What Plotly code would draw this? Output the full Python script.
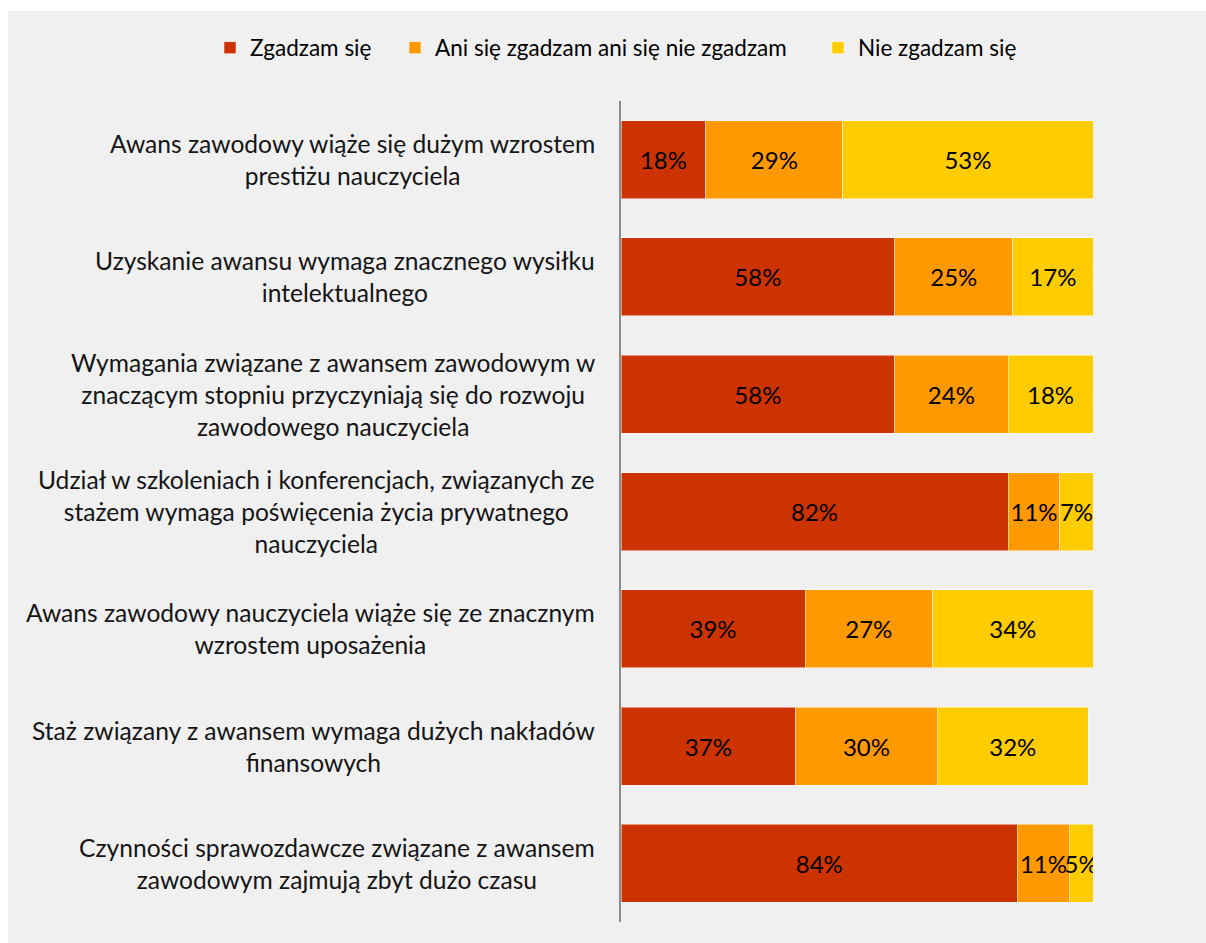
import plotly.graph_objects as go

categories = [
    "Awans zawodowy wiąże się dużym wzrostem<br>prestiżu nauczyciela",
    "Uzyskanie awansu wymaga znacznego wysiłku<br>intelektualnego",
    "Wymagania związane z awansem zawodowym w<br>znaczącym stopniu przyczyniają się do rozwoju<br>zawodowego nauczyciela",
    "Udział w szkoleniach i konferencjach, związanych ze<br>stażem wymaga poświęcenia życia prywatnego<br>nauczyciela",
    "Awans zawodowy nauczyciela wiąże się ze znacznym<br>wzrostem uposażenia",
    "Staż związany z awansem wymaga dużych nakładów<br>finansowych",
    "Czynności sprawozdawcze związane z awansem<br>zawodowym zajmują zbyt dużo czasu",
]
series_names = ["Zgadzam się", "Ani się zgadzam ani się nie zgadzam", "Nie zgadzam się"]
agree = [18, 58, 58, 82, 39, 37, 84]
neutral = [29, 25, 24, 11, 27, 30, 11]
disagree = [53, 17, 18, 7, 34, 32, 5]
colors = ["#CC3300", "#FF9900", "#FFCC00"]

FONT = "Lato"
W, H = 1206, 943
L, R, T, B = 621, 1093, 101, 922
legend_ids = ["legend", "legend2", "legend3"]
legend_left_px = [210, 395, 818]

fig = go.Figure()
for name, vals, col, lid in zip(series_names, [agree, neutral, disagree], colors, legend_ids):
    fig.add_trace(go.Bar(
        y=categories, x=vals, name=name, orientation="h", legend=lid,
        marker=dict(color=col, line=dict(color="rgba(255,255,255,0.5)", width=1)),
        text=[f"{v}%" for v in vals], textposition="inside",
        insidetextanchor="middle", textangle=0,
        textfont=dict(family=FONT, size=24, color="black"),
        hoverinfo="skip",
    ))

def px_x(p):
    return (p - L) / (R - L)

def px_y(p):
    return (B - p) / (B - T)

annotations = []
for c in categories:
    annotations.append(dict(
        x=px_x(597), xref="paper", y=c, yref="y", text=c, showarrow=False,
        xanchor="right", yanchor="middle", align="center",
        font=dict(family=FONT, size=24.6, color="#151515"),
    ))

legend_common = dict(orientation="h", xanchor="left", y=px_y(48), yanchor="middle",
                     font=dict(family=FONT, size=22.5, color="black"),
                     bgcolor="rgba(0,0,0,0)", itemwidth=30)

fig.update_layout(
    width=W, height=H,
    margin=dict(l=L, r=W - R, t=T, b=H - B, pad=0, autoexpand=False),
    paper_bgcolor="white", plot_bgcolor="rgba(0,0,0,0)",
    barmode="stack", bargap=0.335,
    uniformtext=dict(minsize=24, mode="show"),
    font=dict(family=FONT, size=22, color="black"),
    xaxis=dict(range=[0, 100], showgrid=False, zeroline=False, showticklabels=False,
               showline=False, fixedrange=True),
    yaxis=dict(autorange="reversed", showgrid=False, zeroline=False, showticklabels=False,
               showline=True, linecolor="#8c8c8c", linewidth=2, ticks="", fixedrange=True),
    legend=dict(x=px_x(legend_left_px[0]), **legend_common),
    legend2=dict(x=px_x(legend_left_px[1]), **legend_common),
    legend3=dict(x=px_x(legend_left_px[2]), **legend_common),
    showlegend=True,
    annotations=annotations,
    shapes=[dict(type="rect", xref="paper", yref="paper", layer="below",
                 x0=px_x(8), x1=px_x(1300), y0=px_y(1000), y1=px_y(11),
                 fillcolor="#F0F0F0", line=dict(width=0))],
)

fig.write_html("out.html", config={"displayModeBar": False},
               post_script="document.body.style.margin='0';")
